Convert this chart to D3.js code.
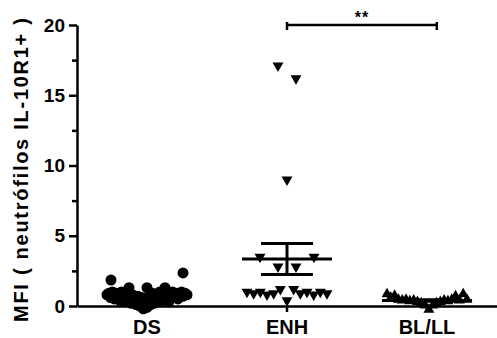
<!DOCTYPE html>
<html>
<head>
<meta charset="utf-8">
<script src="https://cdn.jsdelivr.net/npm/d3@7"></script>
<style>
  body { margin: 0; background: #fff; }
  svg text { font-family: "Liberation Sans", Arial, sans-serif; font-weight: bold; }
</style>
</head>
<body>
<div id="chart"></div>
<script>
var categories = ['DS', 'ENH', 'BL/LL'];
var yTicks = [0, 5, 10, 15, 20];
var yMinorTicks = [2.5, 7.5, 12.5, 17.5];

// values, in the order they sit left to right in each row
var dsValues = [1.85, 1.3, 1.3, 1.3, 2.35,
  0.8, 0.9, 0.6, 1.0, 0.5, 0.9, 0.7, 0.4, 1.0, 0.6, 0.3, 0.9, 0.5, 0.2, 0.8,
  0.4, 0.1, 0.7, 0.0, 0.6, -0.2, 0.5, -0.1, 0.7, 0.1, 0.9, 0.2, 0.6, 0.3, 1.0,
  0.4, 0.8, 0.5, 0.9, 0.3, 0.7, 1.0, 0.6, 0.9, 0.5, 0.8, 1.0, 0.7, 0.9, 0.8];
var enhValues = [17.1, 16.2, 9.0, 3.5, 2.8, 2.8, 3.5,
  1.0, 0.9, 1.0, 0.8, 0.9, 1.2, 0.4, 1.2, 0.9, 1.0, 0.8, 1.0, 0.9];
var blValues = [0.85, 0.6, 0.75, 0.45, 0.4, 0.45, 0.35, 0.4, 0.3, 0.2, 0.05,
  -0.25, 0.05, 0.2, 0.3, 0.4, 0.35, 0.45, 0.7, 0.4, 0.85, 0.45];
var groupValues = [dsValues, enhValues, blValues];
var markerTypes = ['circle', 'down', 'up'];

var width = 497, height = 338;
var margin = {left: 77, right: 0, top: 25, bottom: 32};

var svg = d3.select('#chart').append('svg')
  .attr('width', width)
  .attr('height', height);

var x = d3.scaleBand()
  .domain(categories)
  .range([margin.left, width - margin.right]);

var y = d3.scaleLinear()
  .domain([0, 20])
  .range([height - margin.bottom, margin.top]);

// GraphPad-like rows: points close in value share a row and are spread sideways
function layoutRows(values) {
  var pts = values.map(function(v, i) { return {v: v, i: i}; })
    .sort(function(a, b) { return b.v - a.v; });
  var rows = [], current = null;
  pts.forEach(function(p) {
    if (!current || current.top - p.v > 1.3) {
      current = {top: p.v, pts: []};
      rows.push(current);
    }
    current.pts.push(p);
  });
  var out = [];
  rows.forEach(function(r) {
    r.pts.sort(function(a, b) { return a.i - b.i; });
    var n = r.pts.length;
    var step = n > 1 ? Math.min(18, 80 / (n - 1)) : 0;
    r.pts.forEach(function(p, k) {
      out.push({v: p.v, dx: (k - (n - 1) / 2) * step});
    });
  });
  return out;
}

var triangle = d3.symbol().type(d3.symbolTriangle).size(52);

categories.forEach(function(cat, gi) {
  var cx = x(cat) + x.bandwidth() / 2;
  var pts = layoutRows(groupValues[gi]);
  var g = svg.append('g');
  if (markerTypes[gi] === 'circle') {
    g.selectAll('circle')
      .data(pts)
      .enter()
      .append('circle')
      .attr('cx', function(d) { return cx + d.dx; })
      .attr('cy', function(d) { return y(d.v); })
      .attr('r', 5.5)
      .attr('fill', '#000');
  } else {
    var rot = markerTypes[gi] === 'down' ? 180 : 0;
    g.selectAll('path')
      .data(pts)
      .enter()
      .append('path')
      .attr('d', triangle)
      .attr('transform', function(d) {
        return 'translate(' + (cx + d.dx) + ',' + y(d.v) + ') rotate(' + rot + ')';
      })
      .attr('fill', '#000');
  }

  // mean with SEM
  var vals = groupValues[gi];
  var m = d3.mean(vals);
  var sem = d3.deviation(vals) / Math.sqrt(vals.length);
  var eb = svg.append('g')
    .attr('stroke', '#000')
    .attr('stroke-width', 3);
  eb.append('line')
    .attr('x1', cx - 45).attr('x2', cx + 45)
    .attr('y1', y(m)).attr('y2', y(m));
  eb.append('line')
    .attr('x1', cx).attr('x2', cx)
    .attr('y1', y(m + sem)).attr('y2', y(m - sem));
  [m + sem, m - sem].forEach(function(v) {
    eb.append('line')
      .attr('x1', cx - 26).attr('x2', cx + 26)
      .attr('y1', y(v)).attr('y2', y(v));
  });
});

// axes
var yAxis = svg.append('g')
  .attr('transform', 'translate(' + margin.left + ',0)')
  .call(d3.axisLeft(y).tickValues(yTicks).tickSize(8).tickSizeOuter(0).tickPadding(4));
yAxis.selectAll('text').attr('font-size', 19).attr('fill', '#000');

var yMinor = svg.append('g')
  .attr('transform', 'translate(' + margin.left + ',0)')
  .call(d3.axisLeft(y).tickValues(yMinorTicks).tickSize(5).tickSizeOuter(0).tickFormat(''));
yMinor.select('.domain').remove();

var xAxis = svg.append('g')
  .attr('transform', 'translate(0,' + y(0) + ')')
  .call(d3.axisBottom(x).tickSize(6).tickSizeOuter(0).tickPadding(8));
xAxis.selectAll('text').attr('font-size', 20).attr('fill', '#000');

svg.selectAll('.domain, .tick line')
  .attr('stroke', '#000')
  .attr('stroke-width', 2.5);

// axis title
svg.append('text')
  .attr('transform', 'translate(28,170) rotate(-90)')
  .attr('text-anchor', 'middle')
  .attr('font-size', 20)
  .attr('textLength', 304)
  .attr('lengthAdjust', 'spacing')
  .text('MFI ( neutrófilos IL-10R1+ )');

// significance bracket ENH vs BL/LL
var sx1 = x('ENH') + x.bandwidth() / 2;
var sx2 = x('BL/LL') + x.bandwidth() * 0.57;
var sy = y(20);
var sig = svg.append('g')
  .attr('stroke', '#000')
  .attr('stroke-width', 2.5);
sig.append('line').attr('x1', sx1).attr('x2', sx2).attr('y1', sy).attr('y2', sy);
sig.append('line').attr('x1', sx1).attr('x2', sx1).attr('y1', sy - 3).attr('y2', sy + 5);
sig.append('line').attr('x1', sx2).attr('x2', sx2).attr('y1', sy - 3).attr('y2', sy + 5);
svg.append('text')
  .attr('x', (sx1 + sx2) / 2)
  .attr('y', sy - 2)
  .attr('text-anchor', 'middle')
  .attr('font-size', 16)
  .attr('letter-spacing', 1)
  .text('**');
</script>
</body>
</html>
